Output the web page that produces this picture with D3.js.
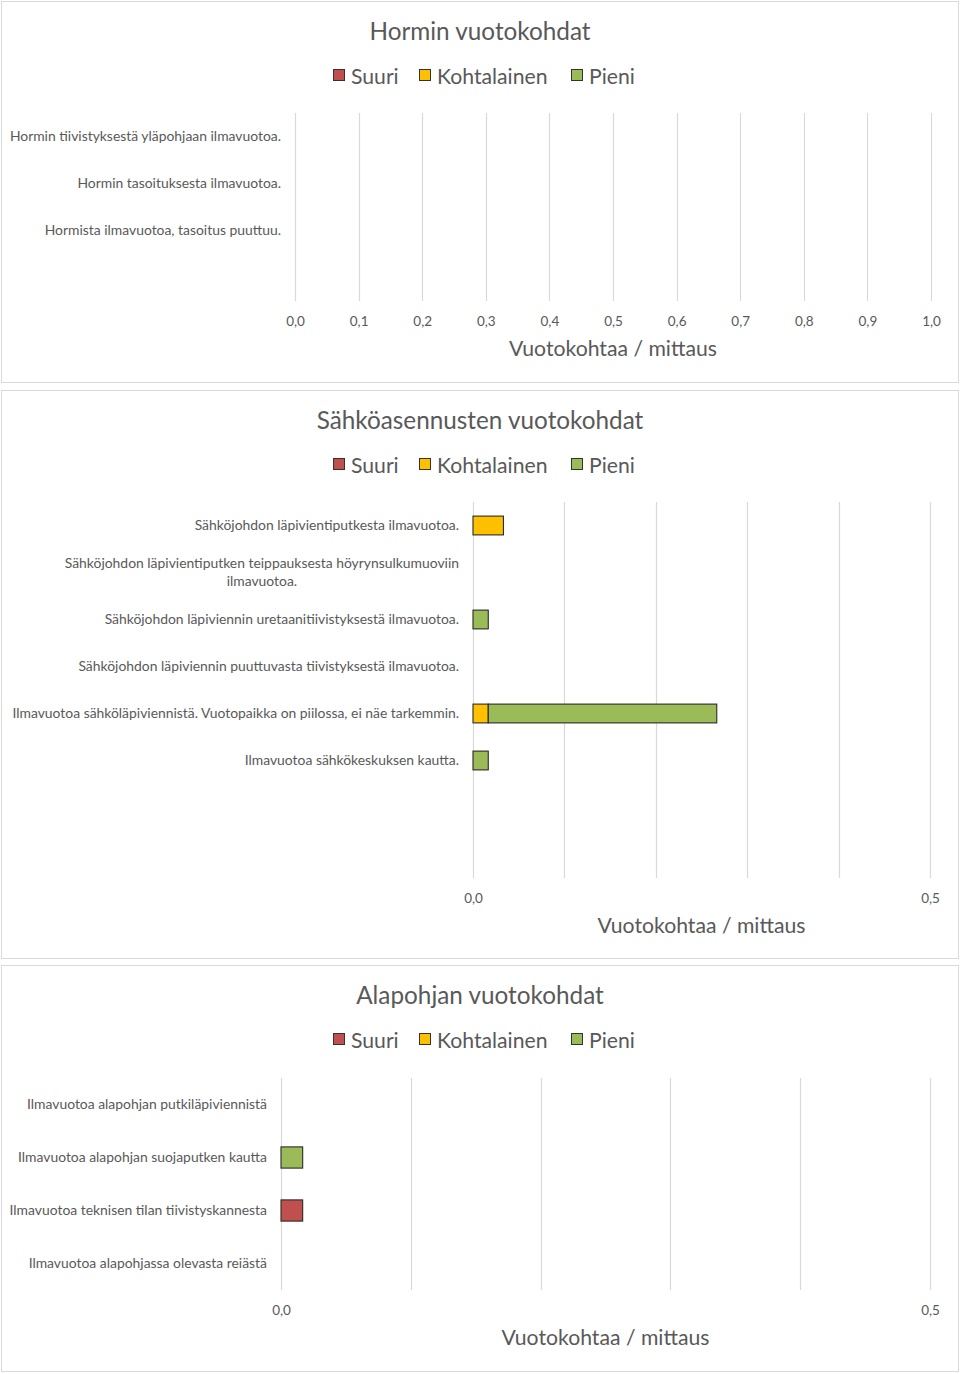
<!DOCTYPE html>
<html><head><meta charset="utf-8">
<script src="https://cdn.jsdelivr.net/npm/d3@7/dist/d3.min.js"></script>
<style>body{margin:0;background:#fff}svg{display:block}text{font-family:Lato,"Open Sans",sans-serif}</style>
</head><body><svg id="c" width="960" height="1374"></svg>
<script>
// ---- data ----
const seriesNames = ["Suuri", "Kohtalainen", "Pieni"];
const seriesColors = ["#C0504D", "#FFC000", "#9BBB59"];

const p1Title = "Hormin vuotokohdat";
const p1Categories = ["Hormin tiivistyksestä yläpohjaan ilmavuotoa.", "Hormin tasoituksesta ilmavuotoa.", "Hormista ilmavuotoa, tasoitus puuttuu.", ""];
const p1Suuri = [0, 0, 0, 0];
const p1Kohtalainen = [0, 0, 0, 0];
const p1Pieni = [0, 0, 0, 0];
const p1Ticks = [0, 0.1, 0.2, 0.3, 0.4, 0.5, 0.6, 0.7, 0.8, 0.9, 1.0];

const p2Title = "Sähköasennusten vuotokohdat";
const p2Categories = ["Sähköjohdon läpivientiputkesta ilmavuotoa.", "Sähköjohdon läpivientiputken teippauksesta höyrynsulkumuoviin\nilmavuotoa.", "Sähköjohdon läpiviennin uretaanitiivistyksestä ilmavuotoa.", "Sähköjohdon läpiviennin puuttuvasta tiivistyksestä ilmavuotoa.", "Ilmavuotoa sähköläpiviennistä. Vuotopaikka on piilossa, ei näe tarkemmin.", "Ilmavuotoa sähkökeskuksen kautta.", "", ""];
const p2Suuri = [0, 0, 0, 0, 0, 0, 0, 0];
const p2Kohtalainen = [0.0333, 0, 0, 0, 0.0167, 0, 0, 0];
const p2Pieni = [0, 0, 0.0167, 0, 0.25, 0.0167, 0, 0];
const p2Ticks = [0, 0.5];
const p2Grid = [0, 0.1, 0.2, 0.3, 0.4, 0.5];

const p3Title = "Alapohjan vuotokohdat";
const p3Categories = ["Ilmavuotoa alapohjan putkiläpiviennistä", "Ilmavuotoa alapohjan suojaputken kautta", "Ilmavuotoa teknisen tilan tiivistyskannesta", "Ilmavuotoa alapohjassa olevasta reiästä"];
const p3Suuri = [0, 0, 0.0167, 0];
const p3Kohtalainen = [0, 0, 0, 0];
const p3Pieni = [0, 0.0167, 0, 0];
const p3Ticks = [0, 0.5];
const p3Grid = [0, 0.1, 0.2, 0.3, 0.4, 0.5];

const axisTitle = "Vuotokohtaa / mittaus";

// ---- drawing ----
const fmt = d3.formatLocale({decimal: ",", thousands: "\u00a0", grouping: [3], currency: ["", "€"]}).format(".1f");
const svg = d3.select("#c");
const textCol = "#595959";

function panel(cfg) {
  const g = svg.append("g");
  g.append("rect").attr("x", 1.5).attr("y", cfg.top + 0.5).attr("width", 957).attr("height", cfg.h)
    .attr("fill", "#fff").attr("stroke", "#d9d9d9");
  g.append("text").attr("x", 480).attr("y", cfg.top + 39).attr("text-anchor", "middle")
    .attr("font-size", 24.3).attr("fill", textCol).text(cfg.title);
  // legend
  const leg = g.append("g").attr("transform", `translate(0,${cfg.top + 76})`);
  const legX = [333, 419, 571];
  seriesNames.forEach((s, i) => {
    leg.append("rect").attr("x", legX[i] + 0.5).attr("y", -7.5).attr("width", 11).attr("height", 11)
      .attr("fill", seriesColors[i]).attr("stroke", "#333").attr("stroke-width", 1);
    leg.append("text").attr("x", legX[i] + 18).attr("y", 0).attr("dy", "0.35em")
      .attr("font-size", 21.2).attr("fill", textCol).text(s);
  });
  const n = cfg.categories.length;
  const x = d3.scaleLinear().domain(cfg.domain).range([cfg.left, cfg.right]);
  const y = d3.scaleBand().domain(d3.range(n)).range([cfg.plotTop, cfg.plotBottom]).paddingInner(0.6).paddingOuter(0.3);
  const yb = d3.scaleBand().domain(d3.range(n)).range([cfg.plotTop, cfg.plotBottom]);
  // gridlines
  g.append("g").selectAll("line").data(cfg.grid).join("line")
    .attr("x1", d => Math.round(x(d)) + 0.5).attr("x2", d => Math.round(x(d)) + 0.5)
    .attr("y1", cfg.plotTop).attr("y2", cfg.plotBottom).attr("stroke", "#d9d9d9").attr("stroke-width", 1.2);
  // x tick labels
  const xa = g.append("g").attr("transform", `translate(0,${cfg.plotBottom})`)
    .call(d3.axisBottom(x).tickValues(cfg.ticks).tickFormat(fmt).tickSize(0).tickPadding(15));
  xa.select(".domain").remove();
  xa.selectAll("text").attr("font-size", 13.5).attr("fill", textCol).attr("font-family", "Lato");
  // axis title
  g.append("text").attr("x", (cfg.left + cfg.right) / 2).attr("y", cfg.plotBottom + 55).attr("text-anchor", "middle")
    .attr("font-size", 21.2).attr("fill", textCol).text(axisTitle);
  // category labels
  const ya = g.append("g").attr("transform", `translate(${cfg.left},0)`)
    .call(d3.axisLeft(yb).tickSize(0).tickPadding(14).tickFormat(""));
  ya.select(".domain").remove();
  ya.selectAll(".tick").each(function(i) {
    const lines = cfg.categories[i].split("\n");
    const t = d3.select(this).append("text").attr("fill", textCol).attr("font-size", 13.9)
      .attr("font-family", "Lato");
    if (lines.length === 1) {
      t.attr("x", -14).attr("dy", "0.35em").attr("text-anchor", "end").text(lines[0]);
    } else {
      t.attr("text-anchor", "middle");
      const spans = lines.map((l, k) => t.append("tspan").text(l));
      const w = d3.max(spans, s => s.node().getComputedTextLength());
      spans.forEach((s, k) => s.attr("x", -14 - w / 2).attr("y", (k - (lines.length - 1) / 2) * 18).attr("dy", "0.35em"));
    }
  });
  // stacked bars
  const rows = d3.range(n).map(i => ({i, Suuri: cfg.s[0][i], Kohtalainen: cfg.s[1][i], Pieni: cfg.s[2][i]}));
  const stack = d3.stack().keys(seriesNames)(rows);
  stack.forEach((layer, li) => {
    g.append("g").selectAll("rect").data(layer.filter(d => d[1] - d[0] > 0)).join("rect")
      .attr("x", d => x(d[0])).attr("width", d => x(d[1]) - x(d[0]))
      .attr("y", d => y(d.data.i)).attr("height", y.bandwidth())
      .attr("fill", seriesColors[li]).attr("stroke", "#2a2a2a").attr("stroke-width", 1.1);
  });
}

panel({top: 1, h: 381, title: p1Title, categories: p1Categories, s: [p1Suuri, p1Kohtalainen, p1Pieni],
  domain: [0, 1], left: 295, right: 931, plotTop: 113, plotBottom: 301, ticks: p1Ticks, grid: p1Ticks});
panel({top: 390, h: 568, title: p2Title, categories: p2Categories, s: [p2Suuri, p2Kohtalainen, p2Pieni],
  domain: [0, 0.5], left: 473, right: 930, plotTop: 502, plotBottom: 878, ticks: p2Ticks, grid: p2Grid});
panel({top: 965, h: 406, title: p3Title, categories: p3Categories, s: [p3Suuri, p3Kohtalainen, p3Pieni],
  domain: [0, 0.5], left: 281, right: 930, plotTop: 1078, plotBottom: 1290, ticks: p3Ticks, grid: p3Grid});
</script></body></html>
